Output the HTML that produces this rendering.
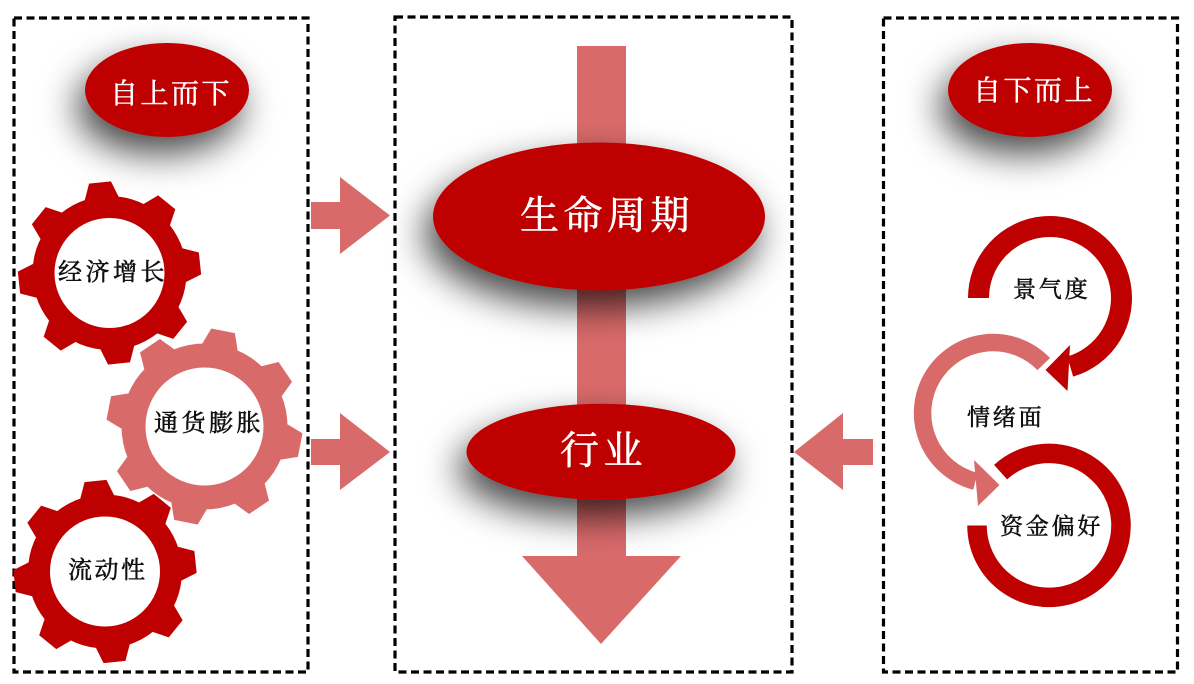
<!DOCTYPE html>
<html><head><meta charset="utf-8">
<style>
html,body{margin:0;padding:0;background:#fff;width:1194px;height:684px;overflow:hidden}
svg{display:block}
text{font-family:"Liberation Serif","Noto Serif CJK SC",serif}
.w{fill:#fff;stroke:#fff;stroke-width:.5px;font-size:28px;letter-spacing:2.5px}
.b{fill:#111;stroke:#111;stroke-width:.55px;font-size:24px;letter-spacing:3.5px}
.d{fill:#111;stroke:#111;stroke-width:.55px;font-size:24px;letter-spacing:2.5px}
.c{fill:#111;stroke:#111;stroke-width:.55px;font-size:23px;letter-spacing:2.8px}
.l{fill:#fff;stroke:#fff;stroke-width:.6px;font-size:39px;letter-spacing:4.5px}
</style></head><body>
<svg width="1194" height="684" viewBox="0 0 1194 684" xmlns="http://www.w3.org/2000/svg">
<defs>
<filter id="s" x="-50%" y="-70%" width="200%" height="280%"><feDropShadow dx="-8" dy="17" stdDeviation="18" flood-color="#000" flood-opacity=".72"/></filter>
</defs>
<g fill="none" stroke="#000" stroke-width="3.2" stroke-dasharray="8 4.5">
<rect x="14" y="18" width="294" height="654"/>
<rect x="395" y="17" width="397" height="655"/>
<rect x="883.500" y="18" width="294" height="654"/>
</g>
<polygon fill="#d96a6a" points="577,46 626,46 626,556 681,556 601,644 522,556 577,556"/>
<g fill="#d96a6a">
<polygon points="311,202 340,202 340,177 390,215.500 340,254 340,229 311,229"/>
<polygon points="311,439 340,439 340,413 390,452 340,490 340,465 311,465"/>
<polygon points="873,439 843,439 843,413 794,452 843,490 843,465 873,465"/>
</g>
<g fill="#bf0000">
<ellipse cx="167" cy="90" rx="82" ry="47" filter="url(#s)"/>
<ellipse cx="1030" cy="90" rx="82" ry="47" filter="url(#s)"/>
<ellipse cx="599" cy="216.500" rx="166" ry="74" filter="url(#s)"/>
<ellipse cx="601" cy="451.700" rx="134.500" ry="48" filter="url(#s)"/>
</g>
<text class="w" x="110" y="103">自上而下</text>
<text class="w" x="973" y="100">自下而上</text>
<text class="l" x="520" y="229">生命周期</text>
<text class="l" x="560" y="464">行业</text>

<g fill="#bf0000" transform="translate(109.500,273)">
<circle r="77"/>
<polygon points="-17,-75 17,-75 11,-91 -11,-91" transform="rotate(-6)"/><polygon points="-17,-75 17,-75 11,-91 -11,-91" transform="rotate(39)"/><polygon points="-17,-75 17,-75 11,-91 -11,-91" transform="rotate(84)"/><polygon points="-17,-75 17,-75 11,-91 -11,-91" transform="rotate(129)"/><polygon points="-17,-75 17,-75 11,-91 -11,-91" transform="rotate(174)"/><polygon points="-17,-75 17,-75 11,-91 -11,-91" transform="rotate(219)"/><polygon points="-17,-75 17,-75 11,-91 -11,-91" transform="rotate(264)"/><polygon points="-17,-75 17,-75 11,-91 -11,-91" transform="rotate(309)"/>
<circle r="55" fill="#fff"/>
</g>
<g fill="#bf0000" transform="translate(105,571.500)">
<circle r="77"/>
<polygon points="-17,-75 17,-75 11,-91 -11,-91" transform="rotate(-6)"/><polygon points="-17,-75 17,-75 11,-91 -11,-91" transform="rotate(39)"/><polygon points="-17,-75 17,-75 11,-91 -11,-91" transform="rotate(84)"/><polygon points="-17,-75 17,-75 11,-91 -11,-91" transform="rotate(129)"/><polygon points="-17,-75 17,-75 11,-91 -11,-91" transform="rotate(174)"/><polygon points="-17,-75 17,-75 11,-91 -11,-91" transform="rotate(219)"/><polygon points="-17,-75 17,-75 11,-91 -11,-91" transform="rotate(264)"/><polygon points="-17,-75 17,-75 11,-91 -11,-91" transform="rotate(309)"/>
<circle r="55" fill="#fff"/>
</g>
<g fill="#d96a6a" transform="translate(204.500,426.500)">
<circle r="83"/>
<polygon points="-18,-81 18,-81 12,-97.500 -12,-97.500" transform="rotate(11)"/><polygon points="-18,-81 18,-81 12,-97.500 -12,-97.500" transform="rotate(56)"/><polygon points="-18,-81 18,-81 12,-97.500 -12,-97.500" transform="rotate(101)"/><polygon points="-18,-81 18,-81 12,-97.500 -12,-97.500" transform="rotate(146)"/><polygon points="-18,-81 18,-81 12,-97.500 -12,-97.500" transform="rotate(191)"/><polygon points="-18,-81 18,-81 12,-97.500 -12,-97.500" transform="rotate(236)"/><polygon points="-18,-81 18,-81 12,-97.500 -12,-97.500" transform="rotate(281)"/><polygon points="-18,-81 18,-81 12,-97.500 -12,-97.500" transform="rotate(326)"/>
<circle r="59" fill="#fff"/>
</g>
<text class="b" x="58" y="280">经济增长</text>
<text class="b" x="154" y="431">通货膨胀</text>
<text class="d" x="68" y="578">流动性</text>

<path d="M978.500 298A71.500 71.500 0 1 1 1070.200 366.600" fill="none" stroke="#bf0000" stroke-width="21"/>
<polygon fill="#bf0000" points="1070,345 1045.500,370 1067.500,391"/>
<path d="M1043.800 364.100A70.500 70.500 0 1 0 975.400 481.300" fill="none" stroke="#d96a6a" stroke-width="17.500"/>
<polygon fill="#d96a6a" points="974,460 999.500,485 978,506"/>
<path d="M977 525.500A72 72 0 1 0 1000.600 472.100" fill="none" stroke="#bf0000" stroke-width="19.500"/>
<text class="c" x="1013" y="297">景气度</text>
<text class="c" x="967" y="425">情绪面</text>
<text class="c" x="1000" y="534">资金偏好</text>
</svg>
</body></html>
